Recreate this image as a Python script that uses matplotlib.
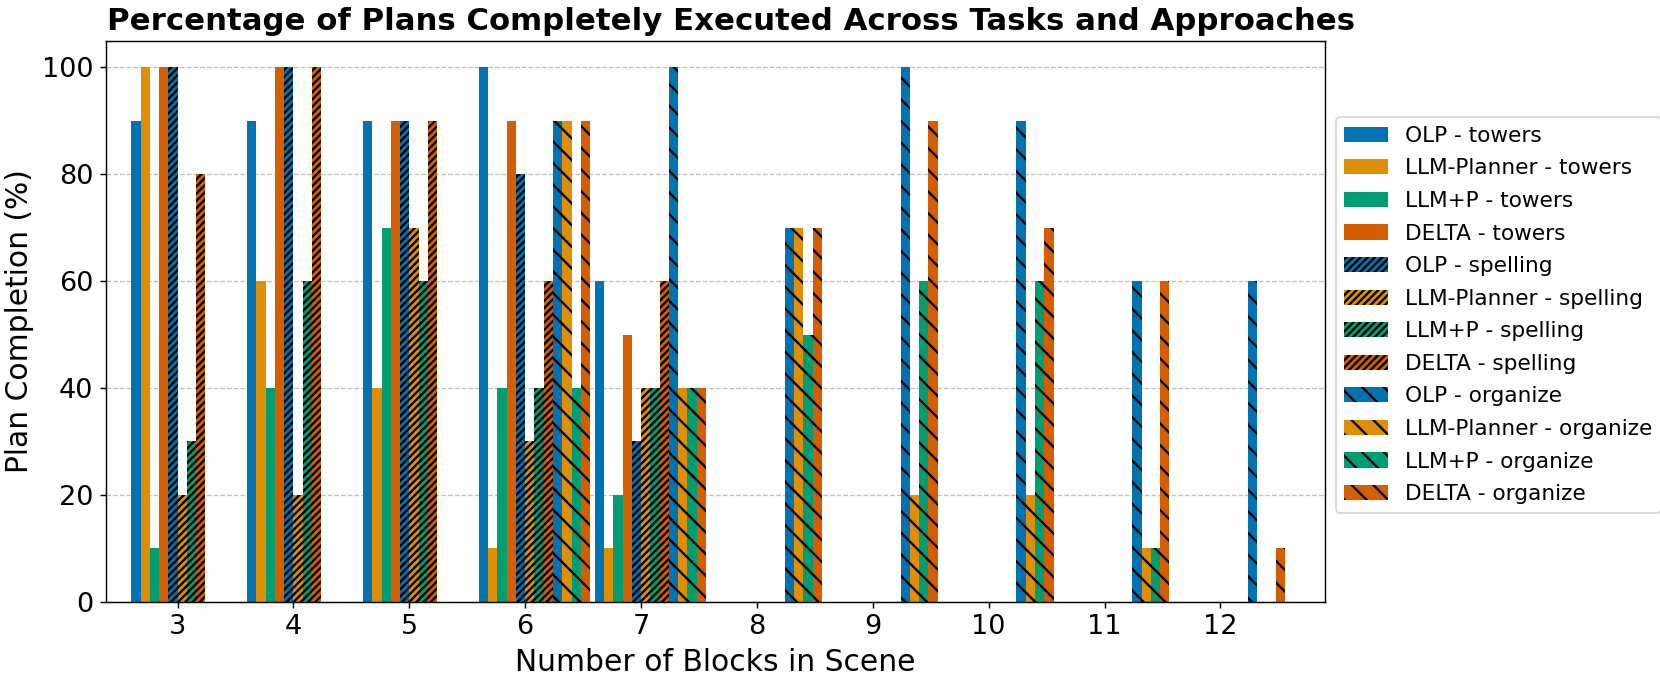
import matplotlib
matplotlib.use("Agg")
import matplotlib.pyplot as plt
import numpy as np

# data
blocks = [3, 4, 5, 6, 7, 8, 9, 10, 11, 12]
approaches = ["OLP", "LLM-Planner", "LLM+P", "DELTA"]
tasks = ["towers", "spelling", "organize"]

# towers
olp_towers = [90, 90, 90, 100, 60, 0, 0, 0, 0, 0]
llmplanner_towers = [100, 60, 40, 10, 10, 0, 0, 0, 0, 0]
llmp_towers = [10, 40, 70, 40, 20, 0, 0, 0, 0, 0]
delta_towers = [100, 100, 90, 90, 50, 0, 0, 0, 0, 0]
# spelling
olp_spelling = [100, 100, 90, 80, 30, 0, 0, 0, 0, 0]
llmplanner_spelling = [20, 20, 70, 30, 40, 0, 0, 0, 0, 0]
llmp_spelling = [30, 60, 60, 40, 40, 0, 0, 0, 0, 0]
delta_spelling = [80, 100, 90, 60, 60, 0, 0, 0, 0, 0]
# organize
olp_organize = [0, 0, 0, 90, 100, 70, 100, 90, 60, 60]
llmplanner_organize = [0, 0, 0, 90, 40, 70, 20, 20, 10, 0]
llmp_organize = [0, 0, 0, 40, 40, 50, 60, 60, 10, 0]
delta_organize = [0, 0, 0, 90, 40, 70, 90, 70, 60, 10]

values = {
    "towers": [olp_towers, llmplanner_towers, llmp_towers, delta_towers],
    "spelling": [olp_spelling, llmplanner_spelling, llmp_spelling, delta_spelling],
    "organize": [olp_organize, llmplanner_organize, llmp_organize, delta_organize],
}

colors = ["#0173B2", "#DE8F05", "#029E73", "#D55E00"]
hatches = {"towers": None, "spelling": "//////", "organize": "\\\\"}

plt.rcParams["hatch.linewidth"] = 1.3

dpi = 130
fig, ax = plt.subplots(figsize=(1660 / dpi, 680 / dpi), dpi=dpi)
fig.subplots_adjust(left=0.0637, right=0.798, bottom=0.115, top=0.9404)

x = np.array(blocks, dtype=float)
w = 0.08
k = 0
for t in tasks:
    for a, name in enumerate(approaches):
        ax.bar(x + (k - 4.5) * w, values[t][a], width=w, color=colors[a],
               hatch=hatches[t], label=f"{name} - {t}")
        k += 1

ax.set_xticks(blocks)
ax.set_xlim(2.38, 12.9)
ax.set_ylim(0, 105)
ax.tick_params(labelsize=15)
ax.set_xlabel("Number of Blocks in Scene", fontsize=16.5)
ax.set_ylabel("Plan Completion (%)", fontsize=16.5)
ax.set_title("Percentage of Plans Completely Executed Across Tasks and Approaches",
             fontsize=17, fontweight="bold", x=0.513)
ax.yaxis.grid(True, linestyle="--", color="gray", alpha=0.5, linewidth=0.7)
ax.set_axisbelow(True)
ax.legend(loc="center left", bbox_to_anchor=(1.0, 0.511), fontsize=12,
          labelspacing=0.58)

fig.savefig("out.png", dpi=dpi)
